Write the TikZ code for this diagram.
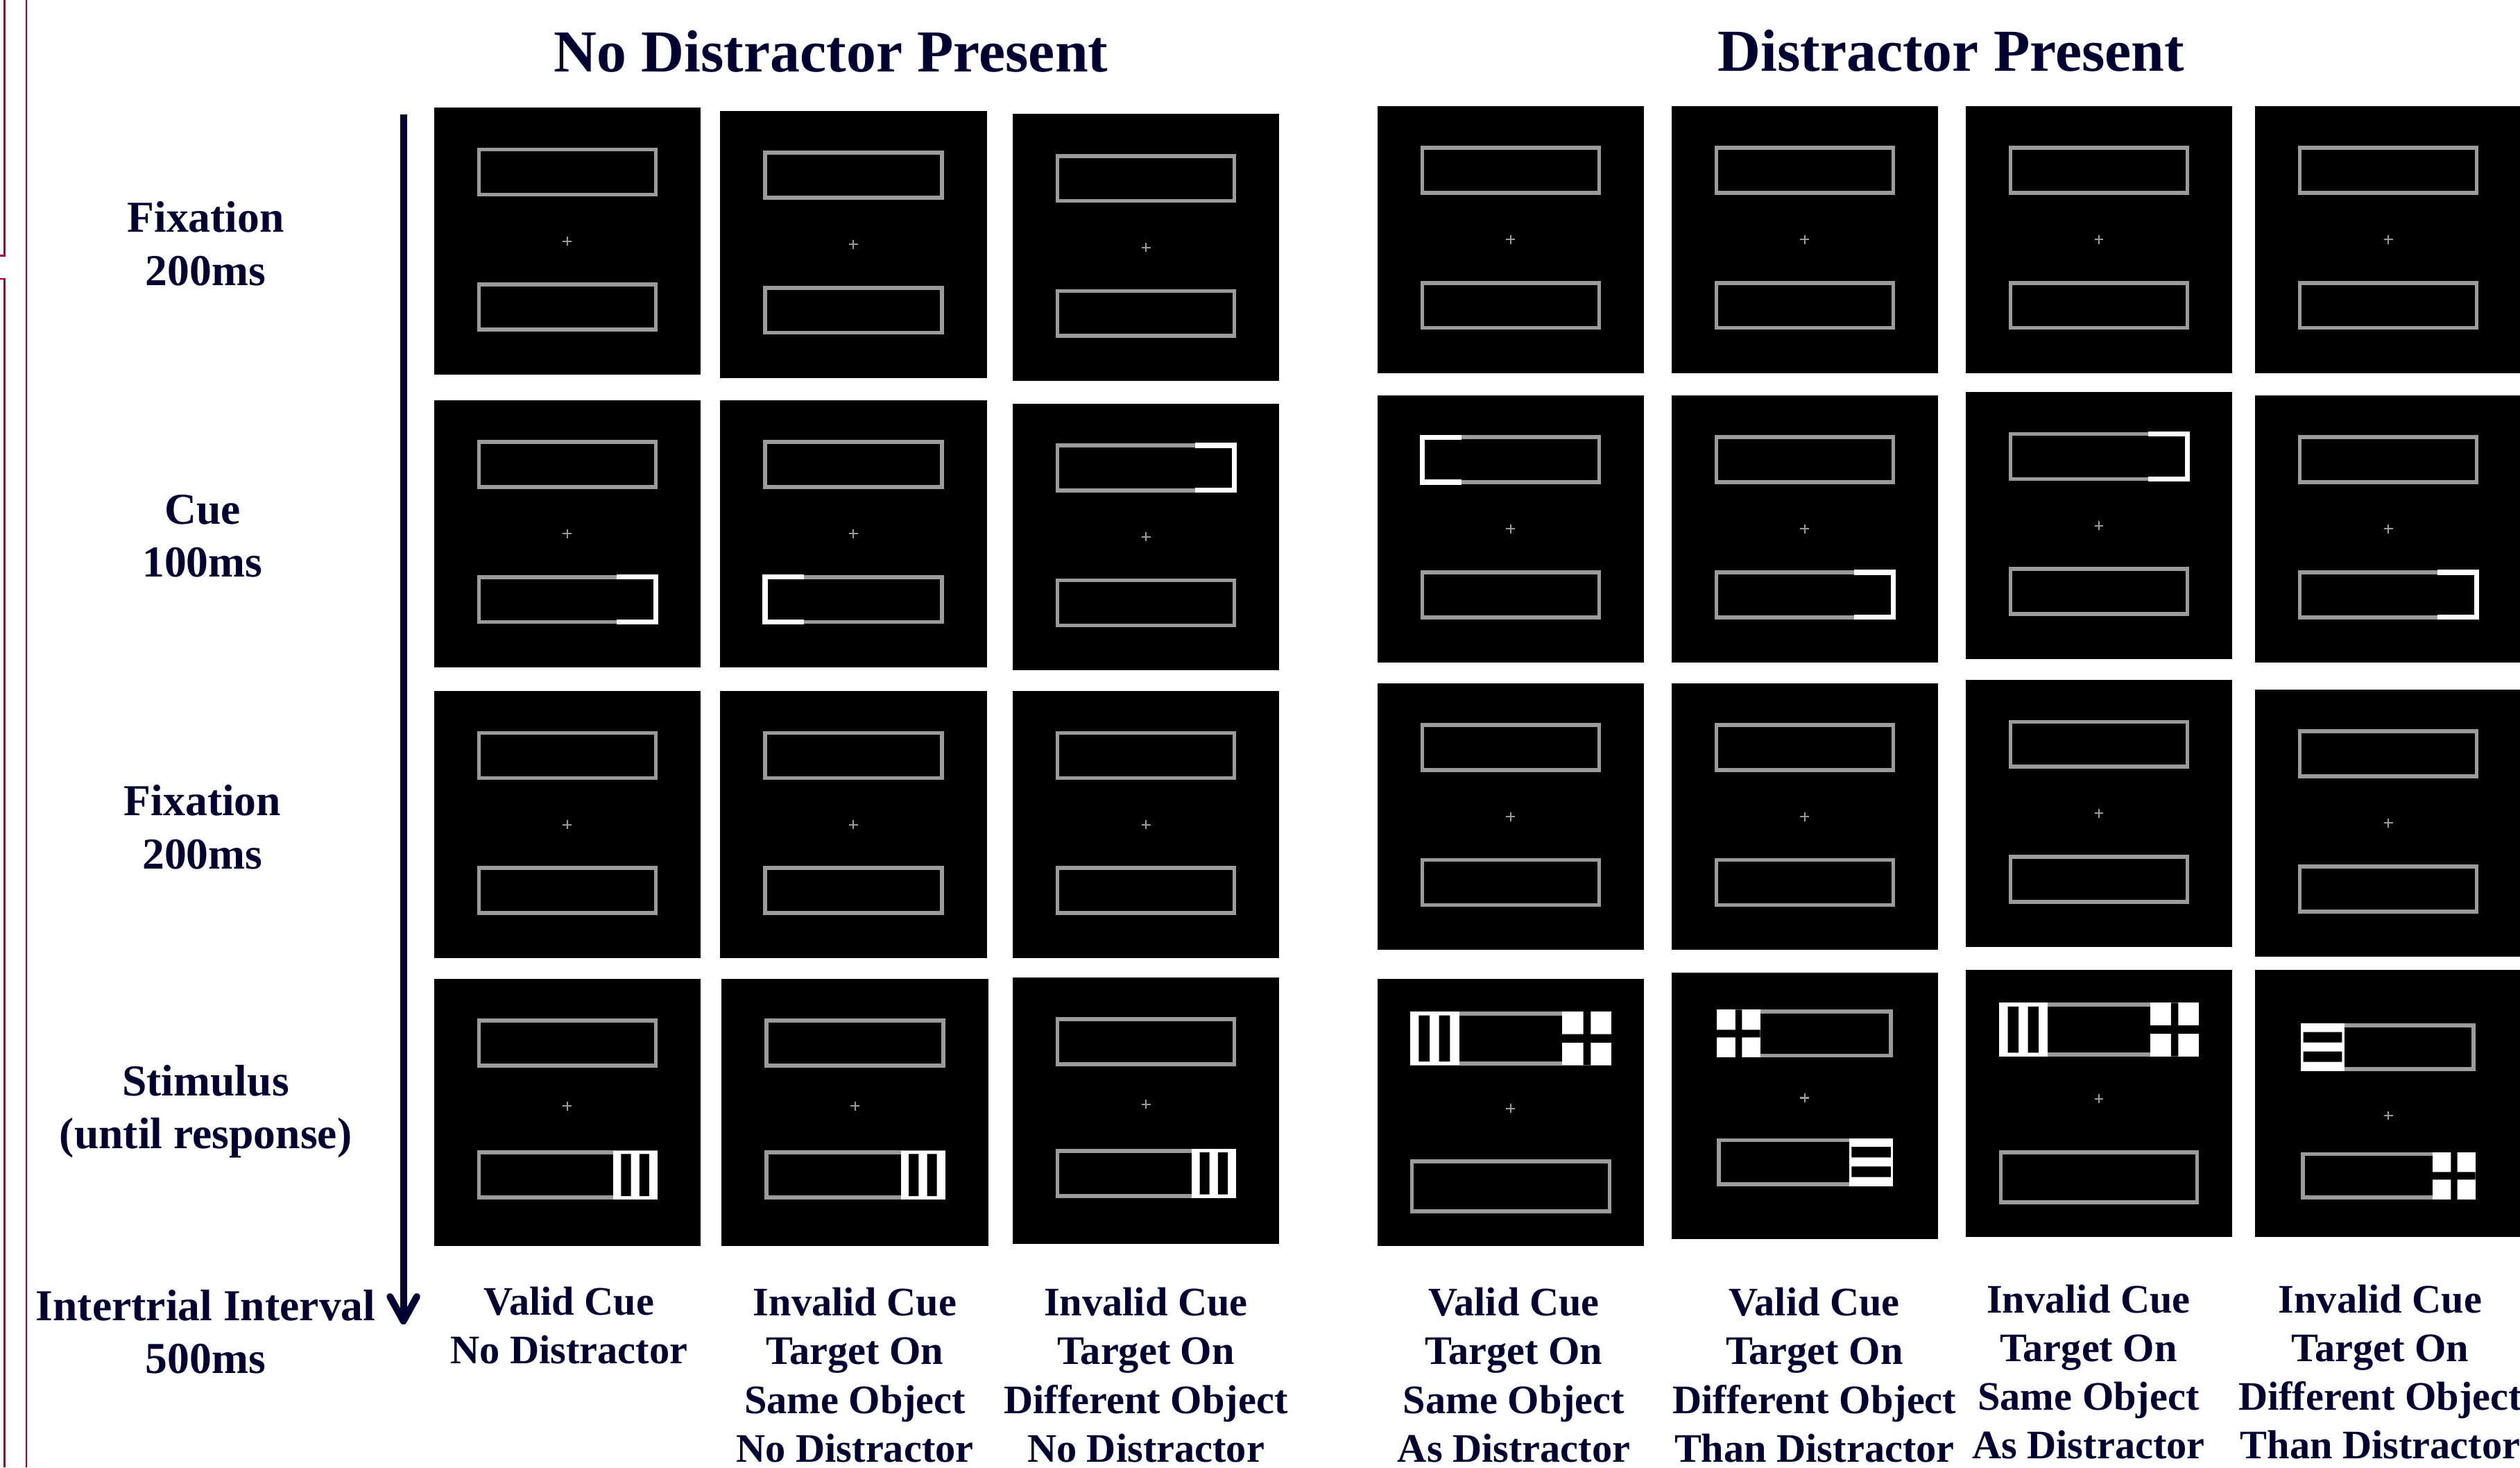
\documentclass[tikz,border=0pt]{standalone}
\usepackage{fontspec}
\setmainfont{Liberation Serif}
\usetikzlibrary{arrows.meta}
\definecolor{ink}{RGB}{0,0,51}
\definecolor{crimson}{RGB}{163,0,58}
\definecolor{barline}{RGB}{155,155,155}

% one black display: two outlined bars and a fixation cross
% #1 name, #2/#3 centre, #4 bar half width, #5 bar half height,
% #6 top bar offset, #7 bottom bar offset, #8 cross offset, #9 extra marks
\newcommand{\trialscreen}[9]{%
  \node[screen] (#1) at (#2,#3) {};
  \begin{scope}[shift={(#2,#3)}]
    \def\hw{#4}\def\hh{#5}\def\ty{#6}\def\by{#7}
    \draw[bar] (-#4,#6-#5) rectangle (#4,#6+#5);
    \draw[bar] (-#4,#7-#5) rectangle (#4,#7+#5);
    \draw[fixcross] (-2.8,#8) -- (2.8,#8) (0,#8-2.8) -- (0,#8+2.8);
    #9
  \end{scope}}
% #1: 0 left end, 1 right end; #2: bar centre
\newcommand{\cuemark}[2]{%
  \draw[cue] ({-0.56*\hw+#1*1.12*\hw},{#2-\hh}) -- ({-\hw+#1*2*\hw},{#2-\hh})
    -- ({-\hw+#1*2*\hw},{#2+\hh}) -- ({-0.56*\hw+#1*1.12*\hw},{#2+\hh});}
\newcommand{\stimblock}[3]{%
  \begin{scope}[shift={({-\hw-1.2+#1*1.54*\hw},{#2-\hh-1.2})},
      xscale={0.46*\hw+2.4},yscale={2*\hh+2.4}]
    \fill[white] (0,0) rectangle (1,1);
    #3
  \end{scope}}
\newcommand{\barsV}{\fill[black] (0.18,0.07) rectangle (0.40,0.93) (0.59,0.07) rectangle (0.81,0.93);}
\newcommand{\barsH}{\fill[black] (0.05,0.18) rectangle (0.95,0.40) (0.05,0.59) rectangle (0.95,0.81);}
\newcommand{\barsX}{\fill[black] (0.43,0) rectangle (0.58,1) (0,0.42) rectangle (1,0.58);}

\begin{document}
\begin{tikzpicture}[x=0.02317cm,y=-0.02317cm,
  screen/.style={fill=black,draw=none,inner sep=0pt,minimum size=3.846cm},
  bar/.style={draw=barline,line width=1.6pt},
  cue/.style={draw=white,line width=2.1pt},
  fixcross/.style={draw=barline,line width=0.6pt},
  heading/.style={font=\bfseries\fontsize{24.4}{29}\selectfont,text=ink},
  phase/.style={font=\bfseries\fontsize{18.1}{21.75}\selectfont,text=ink,align=center},
  condition/.style={font=\bfseries\fontsize{16.6}{20}\selectfont,text=ink,align=center},
  timeline/.style={draw=ink,line width=2.85pt,-{Straight Barb[round,length=10pt,width=11pt]}},
  cropedge/.style={draw=crimson,line width=0.85pt}]
\useasboundingbox (0,0) rectangle (1568,913);
\fill[white] (0,0) rectangle (1568,913);

% edges of the neighbouring figure
\draw[cropedge] (0,159) -- (2.6,159) -- (2.6,0);
\draw[cropedge] (0,173.5) -- (2.6,173.5) -- (2.6,913);
\draw[cropedge] (16.4,0) -- (16.4,913);

\node[heading] (nodis) at (517,32) {No Distractor Present};
\node[heading] (dis) at (1214,31.5) {Distractor Present};

% plain fixation displays
\foreach \n/\x/\y in {L11/353/150,L12/531/152,L13/713/154,L31/353/513,L32/531/513,L33/713/513,
    R11/940/149,R12/1123/149,R13/1306/149,R14/1486/149,
    R31/940/508,R32/1123/508,R33/1306/506,R34/1486/512}{
  \trialscreen{\n}{\x}{\y}{55}{14}{-43}{41}{0}{}
}

% cue displays
\trialscreen{L21}{353}{332}{55}{14}{-43}{41}{0}{\cuemark{1}{\by}}
\trialscreen{L22}{531}{332}{55}{14}{-43}{41}{0}{\cuemark{0}{\by}}
\trialscreen{L23}{713}{334}{55}{14}{-43}{41}{0}{\cuemark{1}{\ty}}
\trialscreen{R21}{940}{329}{55}{14}{-43}{41}{0}{\cuemark{0}{\ty}}
\trialscreen{R22}{1123}{329}{55}{14}{-43}{41}{0}{\cuemark{1}{\by}}
\trialscreen{R23}{1306}{327}{55}{14}{-43}{41}{0}{\cuemark{1}{\ty}}
\trialscreen{R24}{1486}{329}{55}{14}{-43}{41}{0}{\cuemark{1}{\by}}

% stimulus displays
\trialscreen{L41}{353}{692}{55}{14}{-43}{39}{-4}{\stimblock{1}{\by}{\barsV}}
\trialscreen{L42}{532}{692}{55}{14}{-43}{39}{-4}{\stimblock{1}{\by}{\barsV}}
\trialscreen{L43}{713}{691}{55}{14}{-43}{39}{-4}{\stimblock{1}{\by}{\barsV}}
\trialscreen{R41}{940}{692}{61.5}{15.5}{-46}{46}{-2.5}{\stimblock{0}{\ty}{\barsV}\stimblock{1}{\ty}{\barsX}}
\trialscreen{R42}{1123}{688}{53.6}{13.7}{-45}{35}{-5}{\stimblock{0}{\ty}{\barsX}\stimblock{1}{\by}{\barsH}}
\trialscreen{R43}{1306}{686.5}{61}{15.5}{-46}{46}{-3}{\stimblock{0}{\ty}{\barsV}\stimblock{1}{\ty}{\barsX}}
\trialscreen{R44}{1486}{686.5}{53}{13.5}{-35}{45}{7.5}{\stimblock{0}{\ty}{\barsH}\stimblock{1}{\by}{\barsX}}

% time axis
\coordinate (t0) at (251,71);
\coordinate (t1) at (251,824);
\draw[timeline] (t0) -- (t1);

\node[phase] (ph1) at (128,151.5) {Fixation\\200ms};
\node[phase] (ph2) at (126,333.5) {Cue\\100ms};
\node[phase] (ph3) at (126,514.5) {Fixation\\200ms};
\node[phase] (ph4) at (128,691.5) {Stimulus\\(until response)};
\node[phase] (ph5) at (128,828.5) {Intertrial Interval\\500ms};

\node[condition] (c1) at (354,824.5) {Valid Cue\\No Distractor};
\node[condition] (c2) at (532,855.5) {Invalid Cue\\Target On\\Same Object\\No Distractor};
\node[condition] (c3) at (713,855.5) {Invalid Cue\\Target On\\Different Object\\No Distractor};
\node[condition] (c4) at (942,855.5) {Valid Cue\\Target On\\Same Object\\As Distractor};
\node[condition] (c5) at (1129,855.5) {Valid Cue\\Target On\\Different Object\\Than Distractor};
\node[condition] (c6) at (1299.5,853.5) {Invalid Cue\\Target On\\Same Object\\As Distractor};
\node[condition] (c7) at (1481,853.5) {Invalid Cue\\Target On\\Different Object\\Than Distractor};
\end{tikzpicture}
\end{document}
